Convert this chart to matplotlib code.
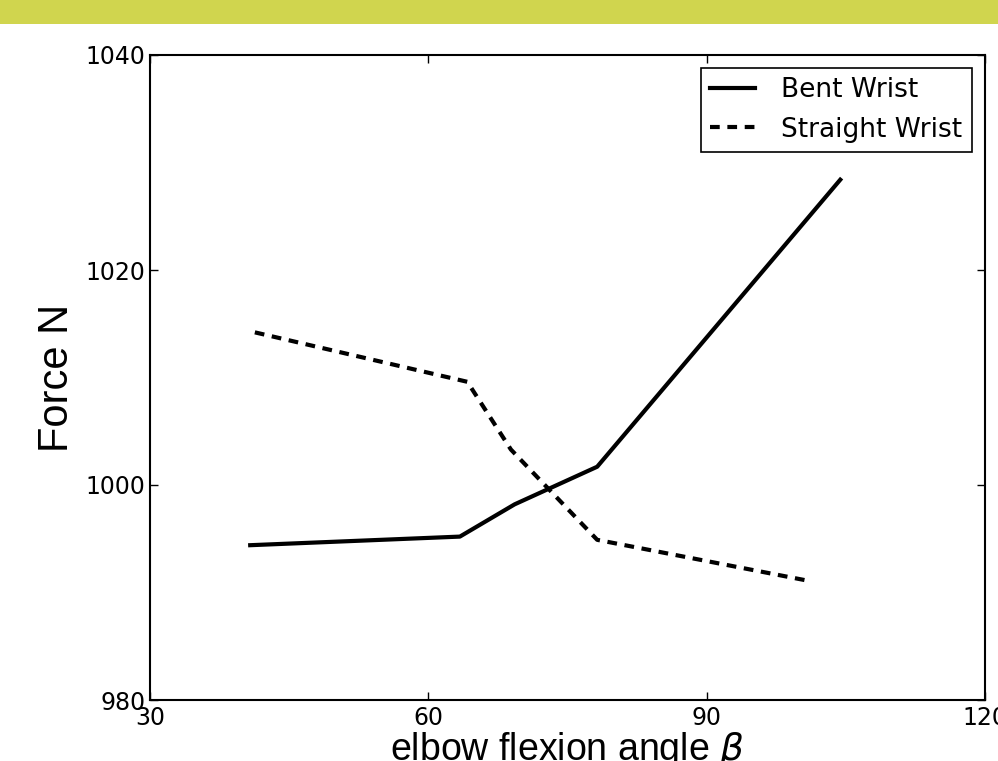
import matplotlib
matplotlib.use('Agg')
import matplotlib.pyplot as plt
from matplotlib.patches import Rectangle

# elbow flexion angle (deg) vs force (N)
angle_bent = [40.8, 63.4, 69.3, 78.2, 104.4]
force_bent = [994.4, 995.2, 998.2, 1001.7, 1028.4]

angle_straight = [41.3, 64.2, 68.9, 78.2, 100.9]
force_straight = [1014.2, 1009.6, 1003.3, 994.9, 991.1]

xticks = [30, 60, 90, 120]
yticks = [980, 1000, 1020, 1040]

plt.rcParams['lines.scale_dashes'] = False

fig = plt.figure(figsize=(9.98, 7.61), dpi=100)
fig.patches.append(Rectangle((0, 1 - 24 / 761), 1, 24 / 761, transform=fig.transFigure,
                             facecolor='#d0d54e', edgecolor='none', zorder=0))

ax = fig.add_axes([150 / 998, 1 - 700 / 761, 835 / 998, 645 / 761])

ax.plot(angle_bent, force_bent, color='black', lw=3, label='Bent Wrist')
ax.plot(angle_straight, force_straight, color='black', lw=3, dashes=(7, 5.5),
        label='Straight Wrist')

ax.set_xlim(30, 120)
ax.set_ylim(980, 1040)
ax.set_xticks(xticks)
ax.set_yticks(yticks)
ax.tick_params(direction='in', top=True, right=True, length=6, width=1)
ax.tick_params(axis='x', pad=4)
for lab in ax.get_xticklabels() + ax.get_yticklabels():
    lab.set_fontfamily('DejaVu Sans Condensed')
    lab.set_fontsize(17)
for s in ax.spines.values():
    s.set_linewidth(1.5)

ax.set_xlabel(r'elbow flexion angle $\beta$', fontsize=27, family='Liberation Sans', labelpad=0)
ax.set_ylabel('Force N', fontsize=30, family='Liberation Sans', labelpad=6)

leg = ax.legend(loc='upper right', fontsize=19, fancybox=False, framealpha=1,
                edgecolor='black', handlelength=1.7, handletextpad=1.0,
                borderpad=0.35, borderaxespad=0.5)
leg.get_frame().set_linewidth(1.2)

fig.savefig('out.png', dpi=100)
